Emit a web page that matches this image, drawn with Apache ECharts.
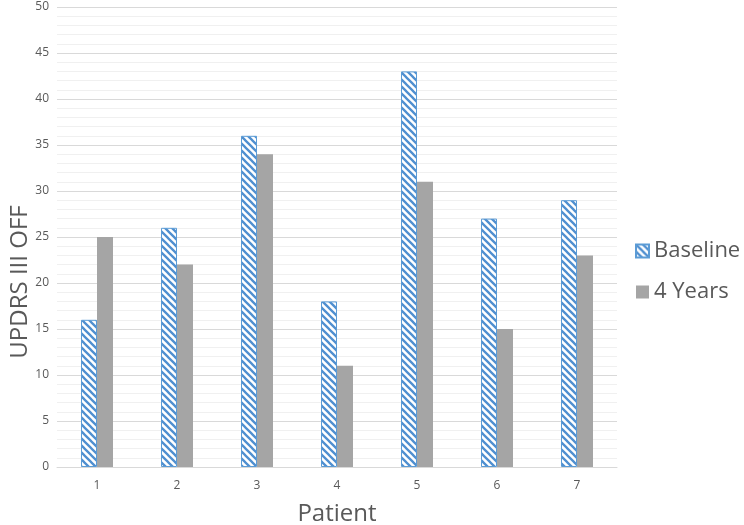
<!DOCTYPE html>
<html>
<head>
<meta charset="utf-8">
<script src="https://cdn.jsdelivr.net/npm/echarts@6/dist/echarts.min.js"></script>
<style>html,body{margin:0;padding:0;background:#fff}#c{width:744px;height:525px}</style>
</head>
<body>
<div id="c"></div>
<script>
var categories = ['1','2','3','4','5','6','7'];
var baseline = [16, 26, 36, 18, 43, 27, 29];
var fourYears = [25, 22, 34, 11, 31, 15, 23];
var seriesNames = ['Baseline', '4 Years'];
var yTitle = 'UPDRS III OFF';
var xTitle = 'Patient';

function hatch() {
  var c = document.createElement('canvas');
  var s = 7;
  c.width = s; c.height = s;
  var g = c.getContext('2d');
  g.fillStyle = '#ffffff';
  g.fillRect(0, 0, s, s);
  g.strokeStyle = '#4f8fd0';
  g.lineWidth = 2.3;
  g.beginPath();
  g.moveTo(-2, -2); g.lineTo(s + 2, s + 2);
  g.moveTo(-2, s - 2); g.lineTo(2, s + 2);
  g.moveTo(s - 2, -2); g.lineTo(s + 2, 2);
  g.stroke();
  return c;
}

var chart = echarts.init(document.getElementById('c'), null, {renderer: 'canvas'});
var font = '"Open Sans", "Noto Sans", sans-serif';
chart.setOption({
  animation: false,
  textStyle: {fontFamily: font},
  grid: {left: 57, right: 127, top: 7, bottom: 58, containLabel: false, outerBoundsMode: 'none'},
  legend: {
    orient: 'vertical', left: 630, top: 235, itemGap: 19,
    icon: 'rect', itemWidth: 13, itemHeight: 13,
    textStyle: {fontSize: 22, color: '#595959', fontFamily: font},
    data: seriesNames
  },
  graphic: [{
    type: 'text', x: 20, y: 282, rotation: Math.PI / 2,
    style: {text: yTitle, fontSize: 24, fill: '#595959', fontFamily: font, align: 'center', verticalAlign: 'middle'}
  }],
  xAxis: {
    type: 'category', data: categories,
    name: xTitle, nameLocation: 'middle', nameGap: 35,
    nameTextStyle: {fontSize: 24, color: '#595959'},
    axisLine: {show: true, lineStyle: {color: '#d9d9d9'}},
    axisTick: {show: false},
    axisLabel: {color: '#595959', fontSize: 12, margin: 13}
  },
  yAxis: {
    type: 'value', min: 0, max: 50, interval: 5,
    axisLine: {show: false}, axisTick: {show: false},
    axisLabel: {color: '#595959', fontSize: 12, margin: 8},
    splitLine: {lineStyle: {color: '#d9d9d9', width: 1}},
    minorTick: {show: false, splitNumber: 5},
    minorSplitLine: {show: true, lineStyle: {color: '#f0f0f0', width: 1}}
  },
  series: [
    {name: seriesNames[0], type: 'bar', data: baseline, barWidth: '20%', barGap: '0%',
     itemStyle: {color: {image: hatch(), repeat: 'repeat'}, borderColor: '#5b9bd5', borderWidth: 1}},
    {name: seriesNames[1], type: 'bar', data: fourYears, barWidth: '20%',
     itemStyle: {color: '#a5a5a5'}}
  ]
});
</script>
</body>
</html>
